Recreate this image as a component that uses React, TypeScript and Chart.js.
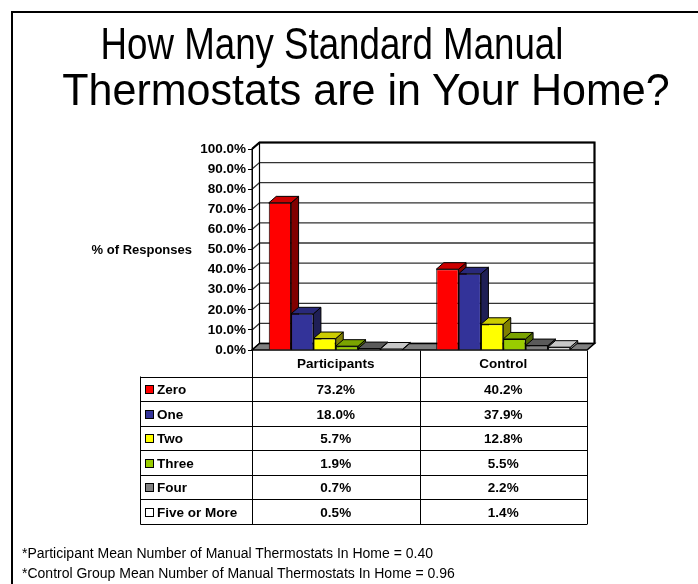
import React, { useEffect, useRef } from "react";
import { Chart, registerables } from "chart.js";

Chart.register(...registerables);

// ---- data ----
const groups = ["Participants", "Control"];
const seriesNames = ["Zero", "One", "Two", "Three", "Four", "Five or More"];
const participants = [73.2, 18.0, 5.7, 1.9, 0.7, 0.5];
const control = [40.2, 37.9, 12.8, 5.5, 2.2, 1.4];
const yTicks = [0, 10, 20, 30, 40, 50, 60, 70, 80, 90, 100];
const titleLines = ["How Many Standard Manual", "Thermostats are in Your Home?"];
const notes = [
  "*Participant Mean Number of Manual Thermostats In Home = 0.40",
  "*Control Group Mean Number of Manual Thermostats In Home = 0.96",
];
const yTitle = "% of Responses";

// ---- styles ----
const frontColors = ["#FF0000", "#333399", "#FFFF00", "#99CC00", "#808080", "#FFFFFF"];
const topColors = ["#CC0000", "#29297A", "#CCCC00", "#7AA300", "#5A5A5A", "#C8C8C8"];
const sideColors = ["#800000", "#1F1F55", "#808000", "#4D6600", "#404040", "#808080"];
const titleCenters = [332, 366];
const titleScales = [0.815, 0.956];

const DX = 7.5;
const DY = -6.5;
const FONT = '"Liberation Sans", Arial, sans-serif';

function poly(ctx: CanvasRenderingContext2D, pts: number[][], fill: string, stroke = "#000", lw = 1) {
  ctx.beginPath();
  ctx.moveTo(pts[0][0], pts[0][1]);
  for (let i = 1; i < pts.length; i++) ctx.lineTo(pts[i][0], pts[i][1]);
  ctx.closePath();
  ctx.fillStyle = fill;
  ctx.fill();
  ctx.strokeStyle = stroke;
  ctx.lineWidth = lw;
  ctx.stroke();
}

function line(ctx: CanvasRenderingContext2D, x1: number, y1: number, x2: number, y2: number) {
  ctx.beginPath();
  ctx.moveTo(x1, y1);
  ctx.lineTo(x2, y2);
  ctx.stroke();
}

const threeD = {
  id: "threeD",
  beforeDraw(chart: any) {
    const { ctx, chartArea: ca, scales } = chart;
    const y = scales.y;
    const L = ca.left, R = ca.right, T = ca.top, B = ca.bottom;
    ctx.save();
    // walls
    poly(ctx, [[L + DX, T + DY], [R + DX, T + DY], [R + DX, B + DY], [L + DX, B + DY]], "#FFFFFF", "#000", 1);
    poly(ctx, [[L, T], [L + DX, T + DY], [L + DX, B + DY], [L, B]], "#FFFFFF", "#000", 1);
    // gridlines
    ctx.strokeStyle = "#333333";
    ctx.lineWidth = 1.3;
    yTicks.forEach((v) => {
      const py = y.getPixelForValue(v);
      ctx.beginPath();
      ctx.moveTo(L, py);
      ctx.lineTo(L + DX, py + DY);
      ctx.lineTo(R + DX, py + DY);
      ctx.stroke();
    });
    // top edge thicker
    ctx.strokeStyle = "#000";
    ctx.lineWidth = 2.2;
    const ty = y.getPixelForValue(100);
    ctx.beginPath();
    ctx.moveTo(L, ty);
    ctx.lineTo(L + DX, ty + DY);
    ctx.lineTo(R + DX, ty + DY);
    ctx.lineTo(R + DX, B + DY);
    ctx.stroke();
    ctx.lineWidth = 1.2;
    line(ctx, L + DX, T + DY, L + DX, B + DY);
    // floor
    poly(ctx, [[L, B], [R, B], [R + DX, B + DY], [L + DX, B + DY]], "#808080", "#000", 1.5);
    ctx.restore();
  },
  beforeDatasetsDraw(chart: any) {
    const { ctx } = chart;
    ctx.save();
    const n = chart.data.datasets.length;
    for (let j = 0; j < chart.data.labels.length; j++) {
      for (let i = 0; i < n; i++) {
        const el = chart.getDatasetMeta(i).data[j];
        const p = el.getProps(["x", "y", "base", "width"], true);
        const xl = p.x - p.width / 2;
        const xr = p.x + p.width / 2;
        const top = p.y;
        const base = p.base;
        poly(ctx, [[xr, top], [xr + DX, top + DY], [xr + DX, base + DY], [xr, base]], sideColors[i], "#000", 1);
        poly(ctx, [[xl, top], [xr, top], [xr + DX, top + DY], [xl + DX, top + DY]], topColors[i], "#000", 1);
      }
    }
    ctx.restore();
  },
  afterDraw(chart: any) {
    const { ctx, chartArea: ca, scales } = chart;
    const x = scales.x;
    const y = scales.y;
    const L = ca.left, R = ca.right, B = ca.bottom;
    ctx.save();
    // y-axis title
    ctx.fillStyle = "#000";
    ctx.font = `bold 13px ${FONT}`;
    ctx.textAlign = "right";
    ctx.textBaseline = "middle";
    ctx.fillText(yTitle, 192, y.getPixelForValue(50) + 1);

    // data table
    const M = (x.getPixelForValue(0) + x.getPixelForValue(1)) / 2;
    const tableLeft = 140.5;
    const headH = 26;
    const rowH = 24.55;
    const top = Math.round(B) + 0.5;
    const rowsTop = top + headH;
    const bottom = rowsTop + rowH * seriesNames.length;
    ctx.strokeStyle = "#000";
    ctx.lineWidth = 1;
    for (let k = 0; k <= seriesNames.length; k++) {
      const yy = Math.round(rowsTop + k * rowH) + 0.5;
      line(ctx, tableLeft, yy, R, yy);
    }
    line(ctx, tableLeft, rowsTop, tableLeft, Math.round(bottom) + 0.5);
    [L, M, R].forEach((xx) => {
      const cx = Math.round(xx) + 0.5;
      line(ctx, cx, top, cx, Math.round(bottom) + 0.5);
    });
    ctx.font = `bold 13.5px ${FONT}`;
    ctx.textAlign = "center";
    ctx.textBaseline = "middle";
    groups.forEach((g, j) => ctx.fillText(g, x.getPixelForValue(j), top + headH / 2 + 1));
    seriesNames.forEach((name, i) => {
      const cy = rowsTop + rowH * i + rowH / 2 + 0.5;
      // swatch
      ctx.fillStyle = frontColors[i];
      ctx.fillRect(145.5, Math.round(cy - 4) + 0.5, 8, 8);
      ctx.strokeStyle = "#000";
      ctx.strokeRect(145.5, Math.round(cy - 4) + 0.5, 8, 8);
      ctx.fillStyle = "#000";
      ctx.textAlign = "left";
      ctx.fillText(name, 157, cy + 1);
      ctx.textAlign = "center";
      chart.data.datasets[i].data.forEach((v: number, j: number) => {
        ctx.fillText(v.toFixed(1) + "%", x.getPixelForValue(j), cy + 1);
      });
    });
    ctx.restore();
  },
};

export default function App() {
  const ref = useRef<HTMLCanvasElement | null>(null);
  useEffect(() => {
    if (!ref.current) return;
    const chart = new Chart(ref.current, {
      type: "bar",
      data: {
        labels: groups,
        datasets: seriesNames.map((name, i) => ({
          label: name,
          data: [participants[i], control[i]],
          backgroundColor: frontColors[i],
          borderColor: "#000",
          borderWidth: 1,
          categoryPercentage: 0.8,
          barPercentage: 1.0,
        })),
      },
      options: {
        animation: false,
        responsive: false,
        devicePixelRatio: 1,
        layout: { padding: { left: 182, top: 149, right: 111, bottom: 234 } },
        plugins: { legend: { display: false }, tooltip: { enabled: false }, title: { display: false } },
        scales: {
          x: { type: "category", display: false, offset: true },
          y: {
            type: "linear",
            min: 0,
            max: 100,
            afterFit: (s: any) => {
              s.width = 70;
            },
            afterBuildTicks: (s: any) => {
              s.ticks = yTicks.map((v) => ({ value: v }));
            },
            ticks: {
              autoSkip: false,
              padding: 2,
              color: "#000",
              font: { family: FONT, size: 13.5, weight: "bold" },
              callback: (v: any) => Number(v).toFixed(1) + "%",
            },
            grid: { display: true, drawOnChartArea: false, drawTicks: true, tickLength: 4, color: "#000", lineWidth: 1 },
            border: { display: true, color: "#000", width: 1 },
          },
        },
      },
      plugins: [threeD],
    });
    return () => chart.destroy();
  }, []);

  const textBase: React.CSSProperties = {
    position: "absolute",
    fontFamily: FONT,
    color: "#000",
    whiteSpace: "nowrap",
  };

  return (
    <div style={{ position: "fixed", left: 0, top: 0, width: 698, height: 584, background: "#fff", overflow: "hidden" }}>
      <div
        style={{
          position: "absolute",
          left: 11,
          top: 11,
          width: 720,
          height: 600,
          borderLeft: "2px solid #000",
          borderTop: "2px solid #000",
        }}
      />
      <canvas ref={ref} width={698} height={584} style={{ position: "absolute", left: 0, top: 0, width: 698, height: 584 }} />
      {titleLines.map((t, i) => (
        <div
          key={i}
          style={{
            ...textBase,
            left: titleCenters[i],
            top: 19 + i * 46,
            fontSize: 45,
            lineHeight: "50px",
            transform: `translateX(-50%) scaleX(${titleScales[i]})`,
          }}
        >
          {t}
        </div>
      ))}
      {notes.map((t, i) => (
        <div key={i} style={{ ...textBase, left: 22, top: 543 + i * 20, fontSize: 14, lineHeight: "20px" }}>
          {t}
        </div>
      ))}
    </div>
  );
}
